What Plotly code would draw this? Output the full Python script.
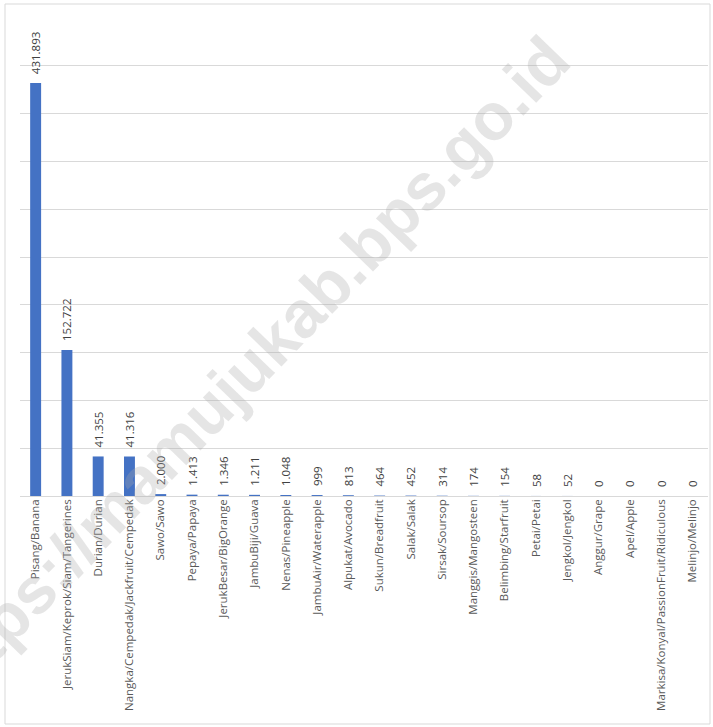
import plotly.graph_objects as go

categories = [
    "Pisang/Banana", "JerukSiam/Keprok/Siam/Tangerines", "Durian/Durian",
    "Nangka/Cempedak/Jackfruit/Cempedak", "Sawo/Sawo", "Pepaya/Papaya",
    "JerukBesar/BigOrange", "JambuBiji/Guava", "Nenas/Pineapple",
    "JambuAir/Waterapple", "Alpukat/Avocado", "Sukun/Breadfruit",
    "Salak/Salak", "Sirsak/Soursop", "Manggis/Mangosteen",
    "Belimbing/Starfruit", "Petai/Petai", "Jengkol/Jengkol",
    "Anggur/Grape", "Apel/Apple", "Markisa/Konyal/PassionFruit/Ridiculous",
    "Melinjo/Melinjo",
]
values = [
    431893, 152722, 41355, 41316, 2000, 1413, 1346, 1211, 1048, 999, 813,
    464, 452, 314, 174, 154, 58, 52, 0, 0, 0, 0,
]

W, H = 713, 727
L, R, T, B = 20, 5, 18, 231

fig = go.Figure(go.Bar(
    x=categories,
    y=values,
    marker=dict(color="#4472C4", line=dict(width=0)),
    texttemplate="\u00a0\u00a0%{y:,.0f}",
    textposition="outside",
    textangle=-90,
    constraintext="none",
    cliponaxis=False,
    textfont=dict(family="Open Sans", size=11.5, color="#404040"),
    hoverinfo="skip",
))

pw = W - L - R
ph = H - T - B

def px_x(x):
    return (x - L) / pw

def px_y(y):
    return (H - B - y) / ph

fig.update_layout(
    width=W, height=H,
    margin=dict(l=L, r=R, t=T, b=B, pad=0, autoexpand=False),
    paper_bgcolor="white",
    plot_bgcolor="white",
    separators=",.",
    bargap=0.65,
    showlegend=False,
    xaxis=dict(
        tickangle=-90,
        tickfont=dict(family="Open Sans", size=11.5, color="#595959"),
        showgrid=False, showline=False, ticks="", automargin=False,
    ),
    yaxis=dict(
        range=[0, 500000], dtick=50000,
        showticklabels=False, showgrid=True,
        gridcolor="#d9d9d9", gridwidth=1,
        zeroline=True, zerolinecolor="#d9d9d9", zerolinewidth=1,
        showline=False, ticks="", automargin=False,
    ),
    shapes=[dict(
        type="rect", xref="paper", yref="paper",
        x0=px_x(5), x1=px_x(710), y0=px_y(724), y1=px_y(4),
        line=dict(color="#d9d9d9", width=1), fillcolor="rgba(0,0,0,0)",
        layer="below",
    )],
    annotations=[dict(
        text="<b>https://mamujukab.bps.go.id</b>",
        xref="paper", yref="paper",
        x=px_x(245), y=px_y(371),
        showarrow=False, textangle=-46,
        font=dict(family="Liberation Sans", size=66, color="rgba(170,170,170,0.3)"),
        xanchor="center", yanchor="middle",
    )],
)

fig.write_html(
    "out.html",
    config={"displayModeBar": False, "staticPlot": True},
    post_script="document.body.style.margin='0';document.body.style.overflow='hidden';",
)
